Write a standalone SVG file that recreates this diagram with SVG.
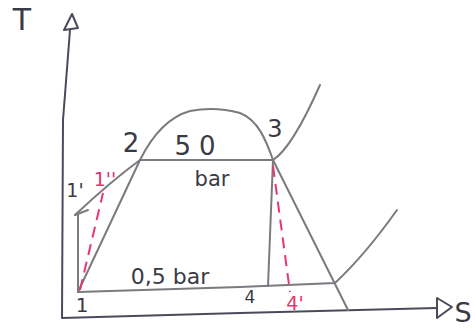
<svg xmlns="http://www.w3.org/2000/svg" width="475" height="329" viewBox="0 0 475 329">
<style>
.ax{fill:none;stroke:#4a4a5c;stroke-width:2;stroke-linecap:round;stroke-linejoin:round}
.ln{fill:none;stroke:#7a7a80;stroke-width:2;stroke-linecap:round;stroke-linejoin:round}
.rd{fill:none;stroke:#e8366c;stroke-width:2;stroke-dasharray:11 7}
.t{font-family:"DejaVu Sans",sans-serif;fill:#3a3a44}
.r{font-family:"DejaVu Sans",sans-serif;fill:#e8366c}
</style>
<rect width="475" height="329" fill="#fff"/>
<g id="axes">
<path class="ax" d="M70 30 L63 120 L62 318 L240 313 L437 308"/>
<path class="ax" d="M64 30 L72 14 L78 28 Z"/>
<path class="ax" d="M437 298 L437 318 L452 307 Z"/>
</g>
<g id="connectors">
<path class="ln" d="M78 292 L140 160 C150 140 165 118 190 111 Q215 106 240 113 C258 120 266 140 273 160 L348 310"/>
<path class="ln" d="M140 160 L273 160"/>
<path class="ln" d="M75 215 Q110 182 140 160"/>
<path class="ln" d="M273 160 Q292 148 320 85"/>
<path class="ln" d="M78 292 L78 215"/>
<path class="ln" d="M75 215 L88 210"/>
<path class="ln" d="M78 292 L240 287 L335 283 Q365 255 397 210"/>
<path class="ln" d="M273 160 L268 286"/>
<path class="rd" d="M273 166 L290 292"/>
<path class="rd" d="M80 290 L103 193"/>
</g>
<g id="labels">
<text class="t" x="22" y="30" font-size="30" text-anchor="middle">T</text>
<text class="t" x="463" y="322" font-size="27" text-anchor="middle">S</text>
<text class="t" x="82" y="312" font-size="20" text-anchor="middle">1</text>
<text class="t" x="75" y="197" font-size="19" text-anchor="middle">1'</text>
<text class="r" x="105" y="186" font-size="19" text-anchor="middle">1''</text>
<text class="t" x="131" y="152" font-size="26" text-anchor="middle">2</text>
<text class="t" x="275" y="137" font-size="24" text-anchor="middle">3</text>
<text class="t" x="250" y="303" font-size="17" text-anchor="middle">4</text>
<text class="r" x="295" y="310" font-size="19" text-anchor="middle">4'</text>
<text class="t" x="199" y="155" font-size="26" text-anchor="middle" letter-spacing="8">50</text>
<text class="t" x="212" y="186" font-size="21" text-anchor="middle">bar</text>
<text class="t" x="170" y="284" font-size="22" text-anchor="middle">0,5 bar</text>
</g>
</svg>
